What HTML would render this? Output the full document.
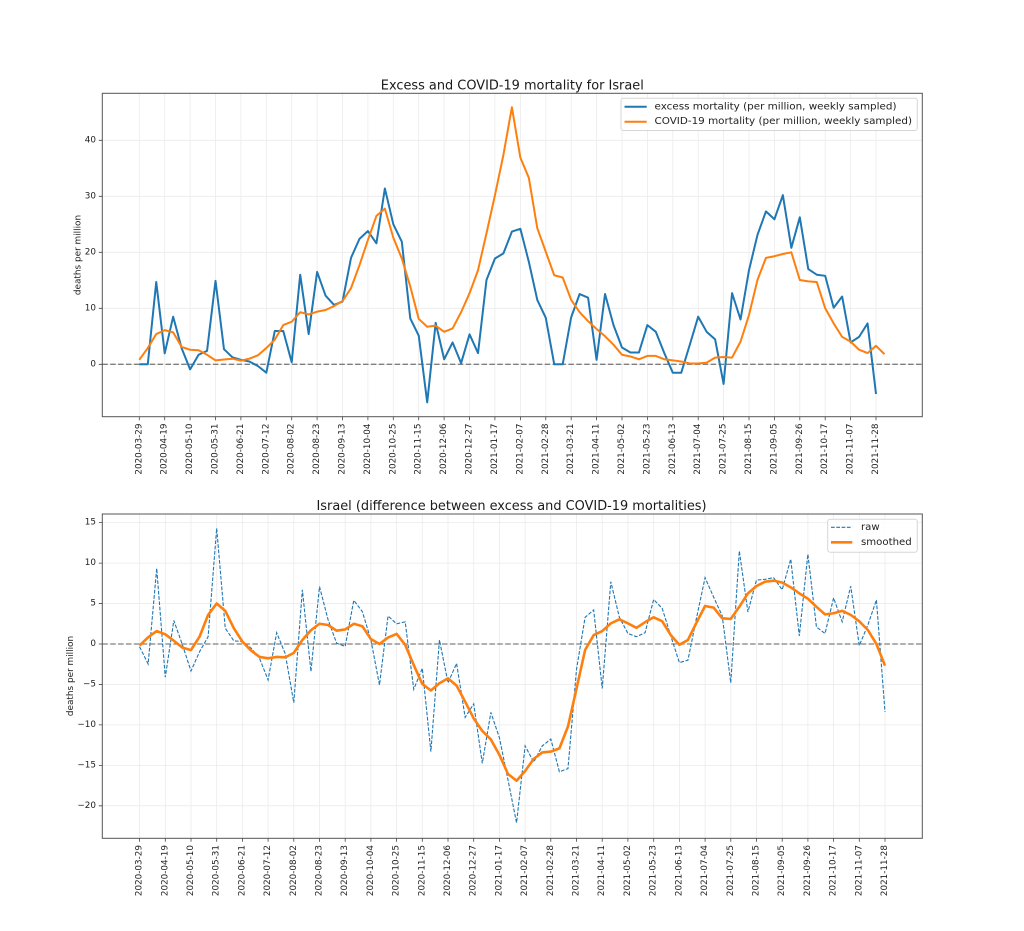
<!DOCTYPE html>
<html><head><meta charset="utf-8"><style>
html,body{margin:0;padding:0;background:#fff;}
svg{display:block;font-family:"DejaVu Sans","Liberation Sans",sans-serif;}
</style></head><body>
<svg width="1024" height="931" viewBox="0 0 1024 931" xmlns="http://www.w3.org/2000/svg">
<rect width="1024" height="931" fill="#fff"/>

<!-- ============ TOP CHART ============ -->
<text x="512.3" y="89.3" font-size="12.9" text-anchor="middle" textLength="263" lengthAdjust="spacingAndGlyphs" fill="#1a1a1a">Excess and COVID-19 mortality for Israel</text>
<!-- grid -->
<path fill="none" stroke="#ebebeb" stroke-width="0.8" d="M139.3 93.3V416.7M164.7 93.3V416.7M190.1 93.3V416.7M215.5 93.3V416.7M240.9 93.3V416.7M266.3 93.3V416.7M291.7 93.3V416.7M317.1 93.3V416.7M342.5 93.3V416.7M367.9 93.3V416.7M393.3 93.3V416.7M418.7 93.3V416.7M444.1 93.3V416.7M469.5 93.3V416.7M494.9 93.3V416.7M520.4 93.3V416.7M545.8 93.3V416.7M571.2 93.3V416.7M596.6 93.3V416.7M622 93.3V416.7M647.4 93.3V416.7M672.8 93.3V416.7M698.2 93.3V416.7M723.6 93.3V416.7M749 93.3V416.7M774.4 93.3V416.7M799.8 93.3V416.7M825.2 93.3V416.7M850.6 93.3V416.7M876 93.3V416.7M102.3 364.3H922.3M102.3 308.3H922.3M102.3 252.3H922.3M102.3 196.3H922.3M102.3 140.3H922.3"/>
<!-- zero line -->
<line x1="102.3" y1="364.3" x2="922.3" y2="364.3" stroke="#808080" stroke-width="1.3" stroke-dasharray="5.5 2.4"/>
<!-- series -->
<g transform="matrix(8.468 0 0 -5.6 139.3 364.3)" fill="none" stroke-linejoin="round">
<polyline vector-effect="non-scaling-stroke" stroke="#1f77b4" stroke-width="2" points="0,0 1,0 2,14.7 3,1.96 4,8.5 5,2.86 6,-0.9 7,1.7 8,2.4 9,14.9 10,2.7 11,1.25 12,0.8 13,0.5 14,-0.3 15,-1.5 16,5.95 17,5.95 18,0.35 19,16 20,5.4 21,16.5 22,12.25 23,10.6 24,11.2 25,19 26,22.4 27,23.8 28,21.6 29,31.4 30,25 31,21.9 32,8.2 33,5.1 34,-6.8 35,7.4 36,0.9 37,3.9 38,0.2 39,5.35 40,2 41,15.05 42,18.9 43,19.8 44,23.7 45,24.2 46,18.3 47,11.5 48,8.3 49,0 50,0 51,8.4 52,12.55 53,11.9 54,0.8 55,12.55 56,7 57,3 58,2.1 59,2.1 60,7 61,5.8 62,2 63,-1.5 64,-1.5 65,3.45 66,8.5 67,5.8 68,4.45 69,-3.5 70,12.7 71,8 72,16.8 73,23.1 74,27.3 75,25.9 76,30.2 77,20.8 78,26.25 79,17 80,16 81,15.8 82,10.1 83,12.1 84,3.9 85,4.9 86,7.3 87,-5.3"/>
<polyline vector-effect="non-scaling-stroke" stroke="#ff7f0e" stroke-width="2" points="0,0.8 1,2.9 2,5.4 3,6.1 4,5.7 5,3.1 6,2.6 7,2.5 8,1.7 9,0.7 10,0.85 11,1 12,0.65 13,1 14,1.6 15,2.9 16,4.4 17,7 18,7.6 19,9.3 20,8.9 21,9.4 22,9.7 23,10.4 24,11.3 25,13.6 26,17.7 27,22.2 28,26.5 29,27.8 30,22.6 31,18.9 32,13.9 33,8.1 34,6.7 35,6.9 36,5.8 37,6.4 38,9.3 39,12.7 40,16.8 41,23.4 42,30.2 43,37.4 44,45.9 45,36.9 46,33.3 47,24.3 48,20.1 49,15.9 50,15.5 51,11.5 52,9.3 53,7.7 54,6.3 55,5 56,3.5 57,1.7 58,1.4 59,0.9 60,1.5 61,1.5 62,0.9 63,0.7 64,0.5 65,0.15 66,0.15 67,0.3 68,1.2 69,1.3 70,1.2 71,4.05 72,8.8 73,15.05 74,19 75,19.3 76,19.7 77,20 78,15.05 79,14.8 80,14.7 81,10 82,7.3 83,4.9 84,4.05 85,2.6 86,2 87,3.3 88,1.8"/>
</g>
<!-- axes frame & ticks -->
<rect x="102.3" y="93.3" width="820" height="323.4" fill="none" stroke="#555" stroke-width="1"/>
<path fill="none" stroke="#444" stroke-width="0.8" d="M139.3 416.7v3.5M164.7 416.7v3.5M190.1 416.7v3.5M215.5 416.7v3.5M240.9 416.7v3.5M266.3 416.7v3.5M291.7 416.7v3.5M317.1 416.7v3.5M342.5 416.7v3.5M367.9 416.7v3.5M393.3 416.7v3.5M418.7 416.7v3.5M444.1 416.7v3.5M469.5 416.7v3.5M494.9 416.7v3.5M520.4 416.7v3.5M545.8 416.7v3.5M571.2 416.7v3.5M596.6 416.7v3.5M622 416.7v3.5M647.4 416.7v3.5M672.8 416.7v3.5M698.2 416.7v3.5M723.6 416.7v3.5M749 416.7v3.5M774.4 416.7v3.5M799.8 416.7v3.5M825.2 416.7v3.5M850.6 416.7v3.5M876 416.7v3.5M102.3 364.3h-3.5M102.3 308.3h-3.5M102.3 252.3h-3.5M102.3 196.3h-3.5M102.3 140.3h-3.5"/>
<!-- y tick labels -->
<g font-size="8.8" fill="#222" text-anchor="end" dominant-baseline="central">
<text x="96" y="364.3">0</text><text x="96" y="308.3">10</text><text x="96" y="252.3">20</text><text x="96" y="196.3">30</text><text x="96" y="140.3">40</text>
</g>
<text transform="translate(78.5,255) rotate(-90)" font-size="8.9" fill="#222" text-anchor="middle" dominant-baseline="central">deaths per million</text>
<!-- x tick labels -->
<g font-size="8.8" fill="#222" text-anchor="end" dominant-baseline="central">
<text transform="translate(139.3,423.5) rotate(-90)">2020-03-29</text>
<text transform="translate(164.7,423.5) rotate(-90)">2020-04-19</text>
<text transform="translate(190.1,423.5) rotate(-90)">2020-05-10</text>
<text transform="translate(215.5,423.5) rotate(-90)">2020-05-31</text>
<text transform="translate(240.9,423.5) rotate(-90)">2020-06-21</text>
<text transform="translate(266.3,423.5) rotate(-90)">2020-07-12</text>
<text transform="translate(291.7,423.5) rotate(-90)">2020-08-02</text>
<text transform="translate(317.1,423.5) rotate(-90)">2020-08-23</text>
<text transform="translate(342.5,423.5) rotate(-90)">2020-09-13</text>
<text transform="translate(367.9,423.5) rotate(-90)">2020-10-04</text>
<text transform="translate(393.3,423.5) rotate(-90)">2020-10-25</text>
<text transform="translate(418.7,423.5) rotate(-90)">2020-11-15</text>
<text transform="translate(444.1,423.5) rotate(-90)">2020-12-06</text>
<text transform="translate(469.5,423.5) rotate(-90)">2020-12-27</text>
<text transform="translate(494.9,423.5) rotate(-90)">2021-01-17</text>
<text transform="translate(520.4,423.5) rotate(-90)">2021-02-07</text>
<text transform="translate(545.8,423.5) rotate(-90)">2021-02-28</text>
<text transform="translate(571.2,423.5) rotate(-90)">2021-03-21</text>
<text transform="translate(596.6,423.5) rotate(-90)">2021-04-11</text>
<text transform="translate(622,423.5) rotate(-90)">2021-05-02</text>
<text transform="translate(647.4,423.5) rotate(-90)">2021-05-23</text>
<text transform="translate(672.8,423.5) rotate(-90)">2021-06-13</text>
<text transform="translate(698.2,423.5) rotate(-90)">2021-07-04</text>
<text transform="translate(723.6,423.5) rotate(-90)">2021-07-25</text>
<text transform="translate(749,423.5) rotate(-90)">2021-08-15</text>
<text transform="translate(774.4,423.5) rotate(-90)">2021-09-05</text>
<text transform="translate(799.8,423.5) rotate(-90)">2021-09-26</text>
<text transform="translate(825.2,423.5) rotate(-90)">2021-10-17</text>
<text transform="translate(850.6,423.5) rotate(-90)">2021-11-07</text>
<text transform="translate(876,423.5) rotate(-90)">2021-11-28</text>
</g>
<!-- legend top -->
<rect x="621" y="98.3" width="296.3" height="32.2" rx="2.5" fill="#fff" fill-opacity="0.85" stroke="#d6d6d6" stroke-width="1"/>
<line x1="624.5" y1="106.8" x2="646.7" y2="106.8" stroke="#1f77b4" stroke-width="2"/>
<line x1="624.5" y1="121.7" x2="646.7" y2="121.7" stroke="#ff7f0e" stroke-width="2"/>
<g font-size="10.15" fill="#222" dominant-baseline="central">
<text x="654.5" y="106.8" textLength="242" lengthAdjust="spacingAndGlyphs">excess mortality (per million, weekly sampled)</text>
<text x="654.5" y="121.7" textLength="257.5" lengthAdjust="spacingAndGlyphs">COVID-19 mortality (per million, weekly sampled)</text>
</g>

<!-- ============ BOTTOM CHART ============ -->
<text x="511.5" y="510" font-size="12.9" text-anchor="middle" textLength="390" lengthAdjust="spacingAndGlyphs" fill="#1a1a1a">Israel (difference between excess and COVID-19 mortalities)</text>
<path fill="none" stroke="#ebebeb" stroke-width="0.8" d="M139.6 514V838.3M165.3 514V838.3M191 514V838.3M216.7 514V838.3M242.4 514V838.3M268.1 514V838.3M293.8 514V838.3M319.5 514V838.3M345.2 514V838.3M370.9 514V838.3M396.6 514V838.3M422.3 514V838.3M448 514V838.3M473.7 514V838.3M499.4 514V838.3M525.1 514V838.3M550.8 514V838.3M576.5 514V838.3M602.2 514V838.3M627.9 514V838.3M653.7 514V838.3M679.4 514V838.3M705.1 514V838.3M730.8 514V838.3M756.5 514V838.3M782.2 514V838.3M807.9 514V838.3M833.6 514V838.3M859.3 514V838.3M885 514V838.3M102.3 522.65H922.3M102.3 563.1H922.3M102.3 603.55H922.3M102.3 644H922.3M102.3 684.45H922.3M102.3 724.9H922.3M102.3 765.35H922.3M102.3 805.8H922.3"/>
<line x1="102.3" y1="644" x2="922.3" y2="644" stroke="#808080" stroke-width="1.3" stroke-dasharray="5.5 2.4"/>
<polyline fill="none" stroke="#1f77b4" stroke-width="1.1" stroke-dasharray="3.7 1.6" points="139.57,646.7 148.14,664 156.71,568.4 165.27,677.2 173.84,620.5 182.41,644.8 190.98,671 199.55,651.7 208.11,636.7 216.68,528.3 225.25,628.2 233.82,640.8 242.39,641.6 250.95,648 259.52,658.3 268.09,680 276.66,632.7 285.23,653.7 293.79,702.7 302.36,589.8 310.93,671.5 319.5,586.6 328.07,619.7 336.63,643.2 345.2,646.4 353.77,600.3 362.34,611.6 370.91,640 379.47,685 388.04,616 396.61,623.8 405.18,621.8 413.75,689.3 422.31,668.3 430.88,751.6 439.45,640 448.02,682.8 456.59,663.4 465.15,717.3 473.72,703.9 482.29,763.3 490.86,712.4 499.43,737.8 507.99,779.9 516.56,822.8 525.13,745.9 533.7,762.1 542.27,745.9 550.83,739.1 559.4,771.8 567.97,768.6 576.54,669.1 585.11,617.3 593.67,610 602.24,688.5 610.81,581.7 619.38,617.3 627.95,633.5 636.51,636.7 645.08,632.7 653.65,599.5 662.22,608.4 670.79,635.9 679.35,662.6 687.92,660.2 696.49,618.1 705.06,577.7 713.63,597.1 722.19,615.7 730.76,682.8 739.33,551 747.9,612 756.47,580.1 765.03,579.3 773.6,577.7 782.17,589.8 790.74,559.1 799.31,635.9 807.87,554.2 816.44,627 825.01,633.5 833.58,597.9 842.15,621.8 850.71,586.2 859.28,645.6 867.85,625 876.42,599.9 884.99,712"/>
<g transform="matrix(8.568 0 0 -8.09 139.57 644)" fill="none" stroke-linejoin="round">
<polyline vector-effect="non-scaling-stroke" stroke="#ff7f0e" stroke-width="2.6" points="0,-0.2 1,0.83 2,1.6 3,1.2 4,0.4 5,-0.45 6,-0.75 7,0.9 8,3.6 9,5 10,4.1 11,1.95 12,0.3 13,-0.8 14,-1.6 15,-1.77 16,-1.6 17,-1.65 18,-1.1 19,0.5 20,1.7 21,2.5 22,2.35 23,1.65 24,1.8 25,2.5 26,2.2 27,0.6 28,0 29,0.8 30,1.25 31,-0.1 32,-2.6 33,-4.94 34,-5.75 35,-4.85 36,-4.25 37,-5.15 38,-7.13 39,-9.2 40,-10.75 41,-11.8 42,-13.7 43,-16.07 44,-16.9 45,-15.7 46,-14.2 47,-13.4 48,-13.3 49,-12.9 50,-10.2 51,-5.5 52,-0.74 53,1.1 54,1.6 55,2.55 56,3.05 57,2.55 58,2 59,2.7 60,3.3 61,2.8 62,1.1 63,-0.1 64,0.5 65,2.64 66,4.7 67,4.5 68,3.17 69,3.1 70,4.6 71,6.26 72,7.15 73,7.7 74,7.83 75,7.6 76,7 77,6.26 78,5.6 79,4.6 80,3.66 81,3.8 82,4.1 83,3.6 84,2.8 85,1.73 86,0 87,-2.68"/>
</g>
<rect x="102.3" y="514" width="820" height="324.3" fill="none" stroke="#555" stroke-width="1"/>
<path fill="none" stroke="#444" stroke-width="0.8" d="M139.6 838.3v3.5M165.3 838.3v3.5M191 838.3v3.5M216.7 838.3v3.5M242.4 838.3v3.5M268.1 838.3v3.5M293.8 838.3v3.5M319.5 838.3v3.5M345.2 838.3v3.5M370.9 838.3v3.5M396.6 838.3v3.5M422.3 838.3v3.5M448 838.3v3.5M473.7 838.3v3.5M499.4 838.3v3.5M525.1 838.3v3.5M550.8 838.3v3.5M576.5 838.3v3.5M602.2 838.3v3.5M627.9 838.3v3.5M653.7 838.3v3.5M679.4 838.3v3.5M705.1 838.3v3.5M730.8 838.3v3.5M756.5 838.3v3.5M782.2 838.3v3.5M807.9 838.3v3.5M833.6 838.3v3.5M859.3 838.3v3.5M885 838.3v3.5M102.3 522.65h-3.5M102.3 563.1h-3.5M102.3 603.55h-3.5M102.3 644h-3.5M102.3 684.45h-3.5M102.3 724.9h-3.5M102.3 765.35h-3.5M102.3 805.8h-3.5"/>
<g font-size="8.8" fill="#222" text-anchor="end" dominant-baseline="central">
<text x="96" y="522.65">15</text><text x="96" y="563.1">10</text><text x="96" y="603.55">5</text><text x="96" y="644">0</text><text x="96" y="684.45">−5</text><text x="96" y="724.9">−10</text><text x="96" y="765.35">−15</text><text x="96" y="805.8">−20</text>
</g>
<text transform="translate(71.2,676) rotate(-90)" font-size="8.9" fill="#222" text-anchor="middle" dominant-baseline="central">deaths per million</text>
<g font-size="8.8" fill="#222" text-anchor="end" dominant-baseline="central">
<text transform="translate(139.6,845) rotate(-90)">2020-03-29</text>
<text transform="translate(165.3,845) rotate(-90)">2020-04-19</text>
<text transform="translate(191,845) rotate(-90)">2020-05-10</text>
<text transform="translate(216.7,845) rotate(-90)">2020-05-31</text>
<text transform="translate(242.4,845) rotate(-90)">2020-06-21</text>
<text transform="translate(268.1,845) rotate(-90)">2020-07-12</text>
<text transform="translate(293.8,845) rotate(-90)">2020-08-02</text>
<text transform="translate(319.5,845) rotate(-90)">2020-08-23</text>
<text transform="translate(345.2,845) rotate(-90)">2020-09-13</text>
<text transform="translate(370.9,845) rotate(-90)">2020-10-04</text>
<text transform="translate(396.6,845) rotate(-90)">2020-10-25</text>
<text transform="translate(422.3,845) rotate(-90)">2020-11-15</text>
<text transform="translate(448,845) rotate(-90)">2020-12-06</text>
<text transform="translate(473.7,845) rotate(-90)">2020-12-27</text>
<text transform="translate(499.4,845) rotate(-90)">2021-01-17</text>
<text transform="translate(525.1,845) rotate(-90)">2021-02-07</text>
<text transform="translate(550.8,845) rotate(-90)">2021-02-28</text>
<text transform="translate(576.5,845) rotate(-90)">2021-03-21</text>
<text transform="translate(602.2,845) rotate(-90)">2021-04-11</text>
<text transform="translate(627.9,845) rotate(-90)">2021-05-02</text>
<text transform="translate(653.7,845) rotate(-90)">2021-05-23</text>
<text transform="translate(679.4,845) rotate(-90)">2021-06-13</text>
<text transform="translate(705.1,845) rotate(-90)">2021-07-04</text>
<text transform="translate(730.8,845) rotate(-90)">2021-07-25</text>
<text transform="translate(756.5,845) rotate(-90)">2021-08-15</text>
<text transform="translate(782.2,845) rotate(-90)">2021-09-05</text>
<text transform="translate(807.9,845) rotate(-90)">2021-09-26</text>
<text transform="translate(833.6,845) rotate(-90)">2021-10-17</text>
<text transform="translate(859.3,845) rotate(-90)">2021-11-07</text>
<text transform="translate(885,845) rotate(-90)">2021-11-28</text>
</g>
<!-- legend bottom -->
<rect x="827.7" y="519.2" width="89.6" height="33.1" rx="2.5" fill="#fff" fill-opacity="0.85" stroke="#d6d6d6" stroke-width="1"/>
<line x1="831" y1="527.3" x2="852.3" y2="527.3" stroke="#1f77b4" stroke-width="1.1" stroke-dasharray="3.7 1.6"/>
<line x1="831" y1="542.3" x2="852.3" y2="542.3" stroke="#ff7f0e" stroke-width="2.6"/>
<g font-size="10.15" fill="#222" dominant-baseline="central">
<text x="861" y="527.3">raw</text>
<text x="861" y="542.3" textLength="50.7" lengthAdjust="spacingAndGlyphs">smoothed</text>
</g>
</svg>
</body></html>
